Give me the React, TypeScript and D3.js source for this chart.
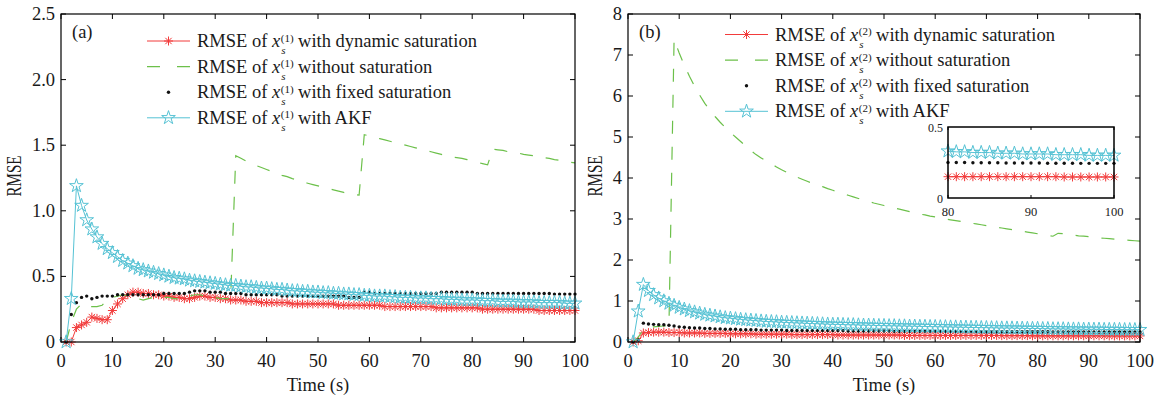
import React, { useRef, useEffect } from 'react'
import * as d3 from 'd3'

const TIME = d3.range(1, 101)

// panel (a): RMSE of x_s^(1)
const leftDynamic = [
  0, 0, 0.11, 0.13, 0.15, 0.19, 0.18, 0.17, 0.17, 0.24,
  0.29, 0.33, 0.36, 0.38, 0.38, 0.37, 0.37, 0.36, 0.36, 0.35,
  0.35, 0.34, 0.34, 0.33, 0.33, 0.34, 0.35, 0.35, 0.34, 0.34,
  0.33, 0.33, 0.32, 0.32, 0.32, 0.31, 0.31, 0.31, 0.30, 0.30,
  0.30, 0.30, 0.30, 0.30, 0.29, 0.29, 0.29, 0.29, 0.29, 0.29,
  0.29, 0.29, 0.29, 0.28, 0.28, 0.28, 0.28, 0.28, 0.28, 0.28,
  0.28, 0.28, 0.27, 0.27, 0.27, 0.27, 0.27, 0.27, 0.27, 0.27,
  0.27, 0.27, 0.26, 0.26, 0.26, 0.26, 0.26, 0.26, 0.26, 0.26,
  0.26, 0.25, 0.25, 0.25, 0.25, 0.25, 0.25, 0.25, 0.25, 0.25,
  0.25, 0.25, 0.24, 0.24, 0.24, 0.24, 0.24, 0.24, 0.24, 0.24,
]
const leftWithout = [
  0, 0.15, 0.25, 0.29, 0.27, 0.27, 0.27, 0.28, 0.32, 0.34,
  0.35, 0.36, 0.35, 0.34, 0.33, 0.32, 0.33, 0.34, 0.34, 0.34,
  0.34, 0.33, 0.33, 0.34, 0.35, 0.36, 0.36, 0.35, 0.35, 0.34,
  0.33, 0.33, 0.33, 1.42, 1.40, 1.38, 1.36, 1.345, 1.33, 1.315,
  1.30, 1.285, 1.27, 1.26, 1.245, 1.235, 1.22, 1.21, 1.20, 1.19,
  1.18, 1.17, 1.16, 1.15, 1.14, 1.13, 1.125, 1.12, 1.58, 1.57,
  1.56, 1.55, 1.54, 1.53, 1.52, 1.51, 1.50, 1.49, 1.48, 1.47,
  1.46, 1.45, 1.44, 1.43, 1.42, 1.41, 1.405, 1.40, 1.39, 1.38,
  1.37, 1.36, 1.35, 1.47, 1.465, 1.46, 1.45, 1.445, 1.44, 1.43,
  1.425, 1.42, 1.41, 1.405, 1.40, 1.39, 1.385, 1.38, 1.37, 1.365,
]
const leftFixed = [
  0, 0.21, 0.30, 0.34, 0.35, 0.33, 0.34, 0.35, 0.35, 0.35,
  0.36, 0.36, 0.36, 0.36, 0.36, 0.36, 0.36, 0.36, 0.36, 0.37,
  0.37, 0.37, 0.37, 0.37, 0.38, 0.39, 0.39, 0.39, 0.38, 0.38,
  0.38, 0.37, 0.37, 0.37, 0.37, 0.36, 0.36, 0.36, 0.36, 0.36,
  0.36, 0.36, 0.35, 0.35, 0.35, 0.35, 0.35, 0.35, 0.35, 0.35,
  0.35, 0.35, 0.35, 0.35, 0.35, 0.34, 0.34, 0.34, 0.38, 0.38,
  0.37, 0.37, 0.37, 0.37, 0.37, 0.37, 0.37, 0.37, 0.37, 0.37,
  0.37, 0.37, 0.37, 0.38, 0.38, 0.38, 0.38, 0.38, 0.38, 0.38,
  0.37, 0.37, 0.37, 0.37, 0.37, 0.37, 0.37, 0.37, 0.37, 0.37,
  0.37, 0.37, 0.37, 0.37, 0.37, 0.365, 0.365, 0.365, 0.365, 0.365,
]
const leftAkf = [
  0, 0.33, 1.19, 1.04, 0.93, 0.86, 0.80, 0.75, 0.71, 0.68,
  0.65, 0.62, 0.60, 0.58, 0.56, 0.55, 0.54, 0.53, 0.52, 0.51,
  0.50, 0.49, 0.485, 0.48, 0.47, 0.465, 0.46, 0.455, 0.45, 0.445,
  0.44, 0.435, 0.43, 0.43, 0.425, 0.42, 0.42, 0.415, 0.41, 0.41,
  0.405, 0.40, 0.40, 0.395, 0.39, 0.39, 0.385, 0.385, 0.38, 0.38,
  0.375, 0.375, 0.37, 0.37, 0.365, 0.365, 0.36, 0.36, 0.355, 0.355,
  0.35, 0.35, 0.35, 0.345, 0.345, 0.34, 0.34, 0.34, 0.335, 0.335,
  0.335, 0.33, 0.33, 0.33, 0.325, 0.325, 0.325, 0.32, 0.32, 0.32,
  0.32, 0.315, 0.315, 0.315, 0.31, 0.31, 0.31, 0.31, 0.305, 0.305,
  0.305, 0.305, 0.30, 0.30, 0.30, 0.30, 0.30, 0.295, 0.295, 0.295,
]

// panel (b): RMSE of x_s^(2)
const rightDynamic = [
  0, 0.03, 0.22, 0.23, 0.24, 0.24, 0.24, 0.23, 0.23, 0.23,
  0.22, 0.22, 0.22, 0.22, 0.21, 0.21, 0.21, 0.21, 0.21, 0.20,
  0.20, 0.20, 0.20, 0.20, 0.19, 0.19, 0.19, 0.19, 0.19, 0.19,
  0.19, 0.18, 0.18, 0.18, 0.18, 0.18, 0.18, 0.18, 0.18, 0.18,
  0.17, 0.17, 0.17, 0.17, 0.17, 0.17, 0.17, 0.17, 0.17, 0.17,
  0.17, 0.17, 0.17, 0.16, 0.16, 0.16, 0.16, 0.16, 0.16, 0.16,
  0.16, 0.16, 0.16, 0.16, 0.16, 0.16, 0.16, 0.16, 0.16, 0.16,
  0.16, 0.16, 0.155, 0.155, 0.155, 0.155, 0.155, 0.155, 0.15, 0.15,
  0.15, 0.15, 0.15, 0.15, 0.15, 0.15, 0.15, 0.15, 0.15, 0.15,
  0.15, 0.15, 0.15, 0.148, 0.148, 0.148, 0.148, 0.148, 0.148, 0.148,
]
const rightWithout = [
  0, 0.12, 0.30, 0.35, 0.37, 0.38, 0.39, 0.40, 7.38, 7.05,
  6.75, 6.48, 6.24, 6.02, 5.82, 5.65, 5.50, 5.36, 5.23, 5.11,
  5.00, 4.89, 4.78, 4.67, 4.57, 4.49, 4.41, 4.34, 4.27, 4.20,
  4.14, 4.08, 4.02, 3.97, 3.92, 3.87, 3.83, 3.79, 3.74, 3.70,
  3.66, 3.62, 3.58, 3.54, 3.50, 3.46, 3.43, 3.39, 3.36, 3.33,
  3.30, 3.27, 3.24, 3.21, 3.18, 3.15, 3.12, 3.10, 3.07, 3.05,
  3.03, 3.00, 2.98, 2.96, 2.94, 2.92, 2.90, 2.88, 2.86, 2.84,
  2.82, 2.80, 2.78, 2.76, 2.74, 2.72, 2.70, 2.68, 2.66, 2.64,
  2.62, 2.60, 2.58, 2.65, 2.64, 2.62, 2.61, 2.59, 2.58, 2.57,
  2.56, 2.54, 2.53, 2.52, 2.51, 2.50, 2.49, 2.48, 2.47, 2.46,
]
const rightFixed = [
  0, 0.05, 0.46, 0.44, 0.43, 0.42, 0.42, 0.41, 0.39, 0.37,
  0.36, 0.35, 0.34, 0.34, 0.33, 0.33, 0.32, 0.32, 0.31, 0.31,
  0.31, 0.30, 0.30, 0.30, 0.30, 0.29, 0.29, 0.29, 0.29, 0.29,
  0.28, 0.28, 0.28, 0.28, 0.28, 0.28, 0.28, 0.28, 0.28, 0.28,
  0.28, 0.28, 0.27, 0.27, 0.27, 0.27, 0.27, 0.27, 0.27, 0.27,
  0.27, 0.26, 0.26, 0.26, 0.26, 0.26, 0.26, 0.26, 0.26, 0.26,
  0.26, 0.26, 0.255, 0.255, 0.255, 0.255, 0.255, 0.255, 0.25, 0.25,
  0.25, 0.25, 0.25, 0.25, 0.25, 0.25, 0.25, 0.25, 0.25, 0.25,
  0.25, 0.25, 0.248, 0.248, 0.248, 0.248, 0.246, 0.246, 0.246, 0.246,
  0.246, 0.245, 0.245, 0.245, 0.245, 0.244, 0.244, 0.244, 0.244, 0.244,
]
const rightAkf = [
  0, 0.75, 1.40, 1.25, 1.15, 1.07, 1.00, 0.94, 0.89, 0.84,
  0.80, 0.76, 0.73, 0.70, 0.67, 0.65, 0.63, 0.61, 0.59, 0.58,
  0.565, 0.55, 0.54, 0.53, 0.52, 0.51, 0.50, 0.495, 0.49, 0.48,
  0.475, 0.47, 0.465, 0.46, 0.455, 0.45, 0.445, 0.44, 0.435, 0.43,
  0.43, 0.425, 0.42, 0.42, 0.415, 0.41, 0.41, 0.405, 0.40, 0.40,
  0.395, 0.395, 0.39, 0.39, 0.385, 0.385, 0.38, 0.38, 0.375, 0.375,
  0.37, 0.37, 0.365, 0.365, 0.36, 0.36, 0.355, 0.355, 0.35, 0.35,
  0.345, 0.345, 0.34, 0.34, 0.34, 0.335, 0.335, 0.33, 0.33, 0.33,
  0.325, 0.325, 0.32, 0.32, 0.32, 0.315, 0.315, 0.315, 0.31, 0.31,
  0.31, 0.31, 0.305, 0.305, 0.305, 0.305, 0.30, 0.30, 0.30, 0.30,
]

const xTicks = [0, 10, 20, 30, 40, 50, 60, 70, 80, 90, 100]
const leftYTicks = [0, 0.5, 1.0, 1.5, 2.0, 2.5]
const rightYTicks = [0, 1, 2, 3, 4, 5, 6, 7, 8]
const insetXTicks = [80, 90, 100]
const insetYTicks = [0, 0.5]
const seriesLabels = ['with dynamic saturation', 'without saturation', 'with fixed saturation', 'with AKF']

const RED = '#f23b3b'
const GREEN = '#6cc04a'
const BLACK = '#111'
const CYAN = '#55c2d4'
const FONT = '"Liberation Serif", "Times New Roman", serif'
const FS = 18.5

const starPath = d3.symbol(d3.symbolStar, 58)()
function asterisk(r: number) {
  const d = r * Math.SQRT1_2
  return `M${-r},0L${r},0M0,${-r}L0,${r}M${-d},${-d}L${d},${d}M${-d},${d}L${d},${-d}`
}
const astPath = asterisk(4.5)

type Pt = { t: number; v: number }

function drawSeries(g: any, x: any, y: any, pts: (Pt[] | null)[]) {
  const line = d3.line<Pt>().x(d => x(d.t)).y(d => y(d.v))
  const [dyn, wo, fix, akf] = pts

  g.append('path').datum(dyn).attr('d', line).attr('fill', 'none').attr('stroke', RED).attr('stroke-width', 1)
  g.selectAll(null).data(dyn).join('path')
    .attr('transform', (d: Pt) => `translate(${x(d.t)},${y(d.v)})`)
    .attr('d', astPath).attr('fill', 'none').attr('stroke', RED).attr('stroke-width', 1)

  if (wo) {
    g.append('path').datum(wo).attr('d', line).attr('fill', 'none').attr('stroke', GREEN)
      .attr('stroke-width', 1.2).attr('stroke-dasharray', '13,13')
  }

  g.selectAll(null).data(fix).join('circle')
    .attr('cx', (d: Pt) => x(d.t)).attr('cy', (d: Pt) => y(d.v)).attr('r', 1.7).attr('fill', BLACK)

  g.append('path').datum(akf).attr('d', line).attr('fill', 'none').attr('stroke', CYAN).attr('stroke-width', 1)
  g.selectAll(null).data(akf).join('path')
    .attr('transform', (d: Pt) => `translate(${x(d.t)},${y(d.v)})`)
    .attr('d', starPath).attr('fill', 'none').attr('stroke', CYAN).attr('stroke-width', 1)
}

// "RMSE of x_s^(k) <label>" with stacked sub/superscript, laid out from measured widths
function legendText(g: any, x0: number, ly: number, sup: string, label: string) {
  const head = g.append('text').attr('x', x0).attr('y', ly + 6).attr('font-size', FS)
  head.append('tspan').text('RMSE of ')
  head.append('tspan').attr('font-style', 'italic').text('x')
  const w1 = head.node().getComputedTextLength()
  const xs = x0 + w1 + 0.5
  g.append('text').attr('x', xs + 0.5).attr('y', ly + 13).attr('font-size', 11).attr('font-style', 'italic').text('s')
  const supT = g.append('text').attr('x', xs).attr('y', ly + 0.5).attr('font-size', 11).text(`(${sup})`)
  const w2 = supT.node().getComputedTextLength()
  g.append('text').attr('x', xs + w2 + 4.5).attr('y', ly + 6).attr('font-size', FS).text(label)
}

function drawPanel(svg: any, p: any) {
  const x = d3.scaleLinear().domain([0, 100]).range([p.left, p.right])
  const y = d3.scaleLinear().domain([0, p.yMax]).range([p.bottom, p.top])
  const g = svg.append('g').attr('font-family', FONT).attr('fill', '#1a1a1a')

  // ticks inside the box
  xTicks.forEach(t => {
    g.append('line').attr('x1', x(t)).attr('x2', x(t)).attr('y1', p.bottom).attr('y2', p.bottom - 5).attr('stroke', '#000')
    g.append('line').attr('x1', x(t)).attr('x2', x(t)).attr('y1', p.top).attr('y2', p.top + 5).attr('stroke', '#000')
    g.append('text').attr('x', x(t)).attr('y', 367).attr('text-anchor', 'middle').attr('font-size', FS).text(t)
  })
  p.yTicks.forEach((t: number) => {
    g.append('line').attr('x1', p.left).attr('x2', p.left + 5).attr('y1', y(t)).attr('y2', y(t)).attr('stroke', '#000')
    g.append('line').attr('x1', p.right).attr('x2', p.right - 5).attr('y1', y(t)).attr('y2', y(t)).attr('stroke', '#000')
    g.append('text').attr('x', p.left - 6).attr('y', y(t) + 6).attr('text-anchor', 'end').attr('font-size', FS).text(p.fmt(t))
  })

  g.append('text').attr('x', (p.left + p.right) / 2).attr('y', 391).attr('text-anchor', 'middle')
    .attr('font-size', FS).text('Time (s)')
  g.append('text').attr('transform', `translate(${p.ylabelX},176) rotate(-90) scale(1,1.4)`)
    .attr('text-anchor', 'middle').attr('font-size', 15).text('RMSE')
  g.append('text').attr('x', p.left + 11).attr('y', 38).attr('font-size', FS).text(p.tag)

  const pts = p.series.map((s: number[]) => s.map((v, i) => ({ t: TIME[i], v })))
  drawSeries(g, x, y, pts)

  // legend
  seriesLabels.forEach((label, i) => {
    const ly = p.legendY + i * 25.6
    const lx = p.legendX
    if (i === 0 || i === 3) {
      g.append('line').attr('x1', lx).attr('x2', lx + 43).attr('y1', ly).attr('y2', ly)
        .attr('stroke', i === 0 ? RED : CYAN).attr('stroke-width', 1)
      g.append('path').attr('transform', `translate(${lx + 21.5},${ly})`).attr('d', i === 0 ? astPath : starPath)
        .attr('fill', 'none').attr('stroke', i === 0 ? RED : CYAN)
    } else if (i === 1) {
      g.append('line').attr('x1', lx).attr('x2', lx + 43).attr('y1', ly).attr('y2', ly)
        .attr('stroke', GREEN).attr('stroke-width', 1.2).attr('stroke-dasharray', '13,17')
    } else {
      g.append('circle').attr('cx', lx + 21.5).attr('cy', ly).attr('r', 1.7).attr('fill', BLACK)
    }
    legendText(g, lx + 50, ly, p.sup, label)
  })

  g.append('rect').attr('x', p.left).attr('y', p.top).attr('width', p.right - p.left).attr('height', p.bottom - p.top)
    .attr('fill', 'none').attr('stroke', '#000').attr('stroke-width', 1.2)
  return g
}

function drawInset(svg: any) {
  const box = { left: 948, right: 1114, top: 127, bottom: 198 }
  const x = d3.scaleLinear().domain([80, 100]).range([box.left, box.right])
  const y = d3.scaleLinear().domain([0, 0.5]).range([box.bottom, box.top])
  const g = svg.append('g').attr('font-family', FONT).attr('fill', '#1a1a1a')
  g.append('rect').attr('x', box.left).attr('y', box.top).attr('width', box.right - box.left)
    .attr('height', box.bottom - box.top).attr('fill', '#fff')

  const pick = (s: number[]) => s.map((v, i) => ({ t: TIME[i], v })).filter(d => d.t >= 80)
  drawSeries(g, x, y, [pick(rightDynamic), null, pick(rightFixed), pick(rightAkf)])

  insetXTicks.forEach(t => {
    g.append('line').attr('x1', x(t)).attr('x2', x(t)).attr('y1', box.bottom).attr('y2', box.bottom - 3).attr('stroke', '#000')
    g.append('line').attr('x1', x(t)).attr('x2', x(t)).attr('y1', box.top).attr('y2', box.top + 3).attr('stroke', '#000')
    g.append('text').attr('x', x(t)).attr('y', 216).attr('text-anchor', 'middle').attr('font-size', 12.5).text(t)
  })
  insetYTicks.forEach(t => {
    g.append('text').attr('x', box.left - 5).attr('y', y(t) + 5).attr('text-anchor', 'end').attr('font-size', 12).text(t)
  })
  g.append('rect').attr('x', box.left).attr('y', box.top).attr('width', box.right - box.left)
    .attr('height', box.bottom - box.top).attr('fill', 'none').attr('stroke', '#000').attr('stroke-width', 1.5)
}

export default function App() {
  const svgRef = useRef<SVGSVGElement>(null)

  useEffect(() => {
    const svg = d3.select(svgRef.current)
    svg.selectAll('*').remove()

    drawPanel(svg, {
      left: 61, right: 575, top: 14, bottom: 342, yMax: 2.5, yTicks: leftYTicks,
      fmt: (d: number) => (d === 0 ? '0' : d.toFixed(1)),
      tag: '(a)', sup: '1', legendX: 147, legendY: 41, ylabelX: 21,
      series: [leftDynamic, leftWithout, leftFixed, leftAkf],
    })
    drawPanel(svg, {
      left: 628, right: 1140, top: 14, bottom: 342, yMax: 8, yTicks: rightYTicks,
      fmt: (d: number) => String(d),
      tag: '(b)', sup: '2', legendX: 725, legendY: 34.5, ylabelX: 602,
      series: [rightDynamic, rightWithout, rightFixed, rightAkf],
    })
    drawInset(svg)
  }, [])

  return (
    <svg ref={svgRef} width={1164} height={399}
      style={{ position: 'absolute', left: 0, top: 0, background: '#fff' }} />
  )
}
